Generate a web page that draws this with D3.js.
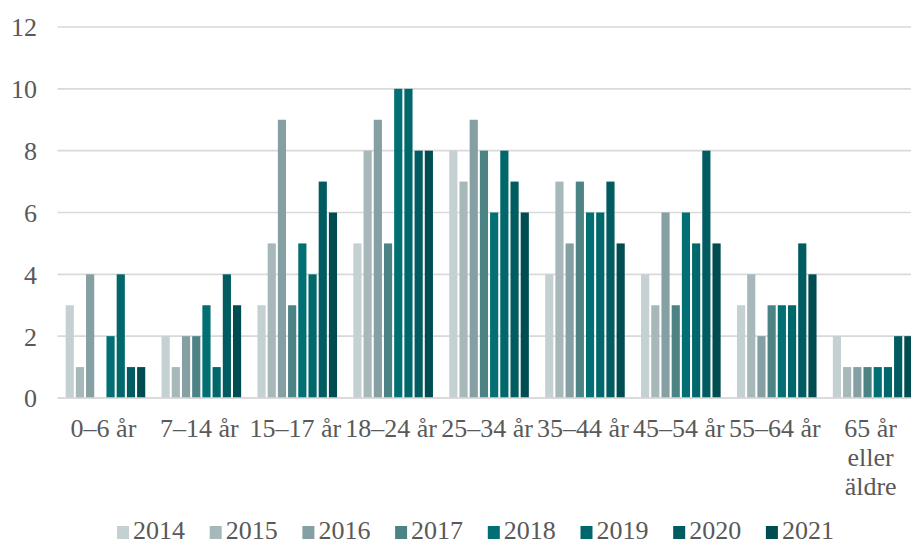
<!DOCTYPE html>
<html>
<head>
<meta charset="utf-8">
<script src="https://cdn.jsdelivr.net/npm/d3@7"></script>
<style>
  html, body { margin: 0; padding: 0; background: #fff; }
  svg { display: block; }
</style>
</head>
<body>
<svg id="chart" width="911" height="545"></svg>
<script>
const categories = ["0–6 år", "7–14 år", "15–17 år", "18–24 år", "25–34 år", "35–44 år", "45–54 år", "55–64 år", "65 år eller äldre"];
const categoryLines = [["0–6 år"], ["7–14 år"], ["15–17 år"], ["18–24 år"], ["25–34 år"], ["35–44 år"], ["45–54 år"], ["55–64 år"], ["65 år", "eller", "äldre"]];
const years = ["2014", "2015", "2016", "2017", "2018", "2019", "2020", "2021"];
const v2014 = [3, 2, 3, 5, 8, 4, 4, 3, 2];
const v2015 = [1, 1, 5, 8, 7, 7, 3, 4, 1];
const v2016 = [4, 2, 9, 9, 9, 5, 6, 2, 1];
const v2017 = [0, 2, 3, 5, 8, 7, 3, 3, 1];
const v2018 = [2, 3, 5, 10, 6, 6, 6, 3, 1];
const v2019 = [4, 1, 4, 10, 8, 6, 5, 3, 1];
const v2020 = [1, 4, 7, 8, 7, 7, 8, 5, 2];
const v2021 = [1, 3, 6, 8, 6, 5, 5, 4, 2];
const yTicks = [0, 2, 4, 6, 8, 10, 12];
const colors = ["#c4d0d2", "#a7b8bb", "#84a0a2", "#4e8386", "#016f73", "#00686a", "#005c60", "#004d51"];

const seriesValues = [v2014, v2015, v2016, v2017, v2018, v2019, v2020, v2021];
const FONT = '"Liberation Serif"';
const TXT = "#595959";

const svg = d3.select("#chart");
const plotLeft = 57.5, plotRight = 920.6, plotTop = 27, plotBottom = 398;

const x0 = d3.scaleBand().domain(categories).range([plotLeft, plotRight]).paddingInner(0.17).paddingOuter(0.085);
const x1 = d3.scaleBand().domain(years).range([0, x0.bandwidth()]).paddingInner(0.2);
const y = d3.scaleLinear().domain([0, 12]).range([plotBottom, plotTop]);

function styleText(sel) {
  return sel.attr("font-family", "Liberation Serif").attr("font-size", 26).attr("fill", TXT)
    .style("font-family", FONT).style("font-size", "26px").style("fill", TXT);
}

// gridlines
svg.append("g").selectAll("line").data(yTicks).join("line")
  .attr("x1", plotLeft).attr("x2", 911)
  .attr("y1", d => y(d)).attr("y2", d => y(d))
  .attr("stroke", "#d9d9d9").attr("stroke-width", 1.6);

// y axis labels
const yAxis = d3.axisLeft(y).tickValues(yTicks).tickSize(0).tickPadding(0);
const gy = svg.append("g").attr("transform", "translate(37,0)").call(yAxis);
gy.attr("font-family", "Liberation Serif").attr("font-size", 26);
gy.select(".domain").remove();
styleText(gy.selectAll("text")).attr("dy", "0.34em");

// bars
const groups = svg.append("g").selectAll("g").data(categories).join("g")
  .attr("transform", d => `translate(${x0(d)},0)`);
groups.selectAll("rect").data((c, i) => years.map((yr, j) => ({ yr, j, v: seriesValues[j][i] })))
  .join("rect")
  .attr("x", d => x1(d.yr))
  .attr("width", x1.bandwidth())
  .attr("y", d => y(d.v))
  .attr("height", d => y(0) - y(d.v))
  .attr("fill", d => colors[d.j]);

// baseline redraw over bars
svg.append("line").attr("x1", plotLeft).attr("x2", 911).attr("y1", y(0)).attr("y2", y(0))
  .attr("stroke", "#d9d9d9").attr("stroke-width", 1.6);

// x labels
const xl = styleText(svg.append("g").selectAll("text").data(categories).join("text"))
  .attr("x", d => x0(d) + x0.bandwidth() / 2 - 2)
  .attr("y", 437)
  .attr("text-anchor", "middle");
xl.each(function (d, i) {
  const t = d3.select(this);
  categoryLines[i].forEach((ln, k) => {
    t.append("tspan").attr("x", x0(d) + x0.bandwidth() / 2 - 2).attr("dy", k === 0 ? 0 : 29).text(ln);
  });
});

// legend
const legend = svg.append("g").selectAll("g").data(years).join("g")
  .attr("transform", (d, i) => `translate(${117 + i * 92.7},0)`);
legend.append("rect").attr("x", 0).attr("y", 526).attr("width", 12).attr("height", 13)
  .attr("fill", (d, i) => colors[i]);
styleText(legend.append("text")).attr("x", 16).attr("y", 539).text(d => d);
</script>
</body>
</html>
